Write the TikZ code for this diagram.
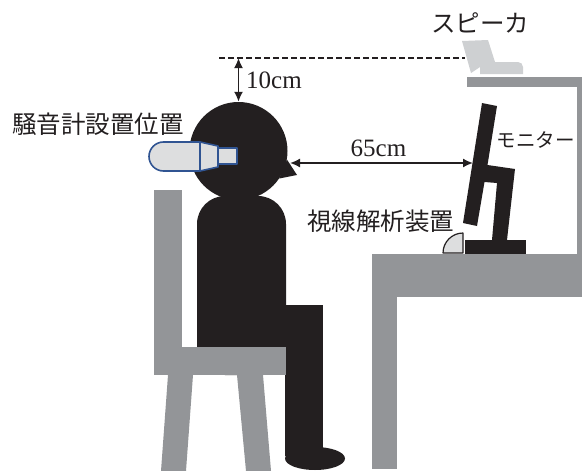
\documentclass[tikz,border=0pt]{standalone}
\usepackage{fontspec}
\setmainfont{Liberation Serif}
\newfontfamily\jpfont{Noto Sans CJK JP}
\usepackage{tikz}
\usetikzlibrary{arrows.meta}
\definecolor{figblack}{RGB}{35,31,32}
\definecolor{furngray}{RGB}{147,149,152}
\definecolor{spkgray}{RGB}{206,208,210}
\definecolor{meterfill}{RGB}{221,222,223}
\definecolor{meterblue}{RGB}{48,84,146}
\tikzset{
  person/.style={fill=figblack},
  furniture/.style={fill=furngray},
  meterpart/.style={
    draw=meterblue,
    line width=1.6pt,
    fill=meterfill,
    line join=round
  },
  dimarrow/.style={
    {Latex[length=10pt,width=9pt]}-{Latex[length=10pt,width=9pt]},
    line width=1.8pt,
    draw=figblack
  },
  jplabel/.style={
    font=\jpfont\fontsize{24.5}{24.5}\selectfont,
    text=figblack,
    inner sep=0pt
  },
  cmlabel/.style={
    font=\fontsize{25}{25}\selectfont,
    text=figblack,
    inner sep=0pt
  }
}

\begin{document}
\begin{tikzpicture}[x=1pt,y=-1pt]
  \useasboundingbox (0,0) rectangle (582,471);

  % seated person
  \fill[person, rounded corners=28] (197,375) -- (197,196) -- (286,196) -- (286,375) -- cycle;
  \fill[person] (285,305) rectangle (323,456);
  \fill[person] (315,458.5) ellipse[x radius=30, y radius=11.5];
  \node[person, circle, minimum size=98pt, inner sep=0pt] (head) at (238.5,151) {};
  \fill[person] (head.-10) -- (297,175) -- (head.-34) -- cycle;

  % chair
  \fill[furniture] (154,190) rectangle (182,375);
  \fill[furniture] (154,347) rectangle (286,375);
  \fill[furniture] (168,375) -- (193,375) -- (186,471) -- (161,471) -- cycle;
  \fill[furniture] (237,375) -- (263,375) -- (271,471) -- (246,471) -- cycle;

  % sound level meter at the ear
  \draw[meterpart] (200,156.5) -- (200,142) [rounded corners=14.5] -- (149,142) -- (149,171) [sharp corners] -- (200,171) -- cycle;
  \draw[meterpart] (200,142) -- (218,146) -- (218,167) -- (200,171) -- cycle;
  \draw[meterpart] (218,148) rectangle (237,164);

  % desk and shelf
  \fill[furniture] (372,254) rectangle (582,297);
  \fill[furniture] (372,254) rectangle (397,469);
  \fill[furniture] (467,77) rectangle (582,87);
  \fill[furniture] (577,77) rectangle (582,256);

  % speaker
  \fill[spkgray] (462,41) -- (488,40) -- (495,62) -- (480,62) -- (480,67) -- (471,73) -- cycle;
  \fill[spkgray] (480,74) -- (480,62) [rounded corners=5] -- (523,62) [sharp corners] -- (523,74) -- cycle;

  % monitor
  \fill[person] (482,103) -- (497,106) -- (487.5,165) -- (515,169) -- (507,240) -- (492,240)
    -- (497,183) -- (484.5,182) -- (477,226) -- (463,223) -- cycle;
  \fill[person] (465,240) rectangle (526,254);

  % eye tracker
  \draw[figblack, fill=meterfill, line width=1.2pt, line join=round] (463,253) -- (463,233)
    .. controls (452,233) and (443,242) .. (443,253) -- cycle;

  % distances
  \coordinate (ceil) at (238.5,58);
  \coordinate (eye) at (290,163);
  \coordinate (screen) at (473,163);
  \draw[figblack, line width=1.2pt, dash pattern=on 6pt off 3pt] (219,58) -- (465,58);
  \draw[dimarrow] (ceil) -- (head.north);
  \draw[dimarrow, line width=1.6pt] (eye) -- (screen);

  \node[cmlabel, anchor=west] (uplbl) at (246,80) {10cm};
  \node[cmlabel] (distlbl) at (378.5,148) {65cm};
  \node[jplabel] (meterlbl) at (98,124) {騒音計設置位置};
  \node[jplabel] (spklbl) at (480,23) {スピーカ};
  \node[jplabel, font=\jpfont\fontsize{19.5}{19.5}\selectfont] (monlbl) at (535.5,140) {モニター};
  \node[jplabel] (trklbl) at (380.5,221.5) {視線解析装置};
\end{tikzpicture}
\end{document}
